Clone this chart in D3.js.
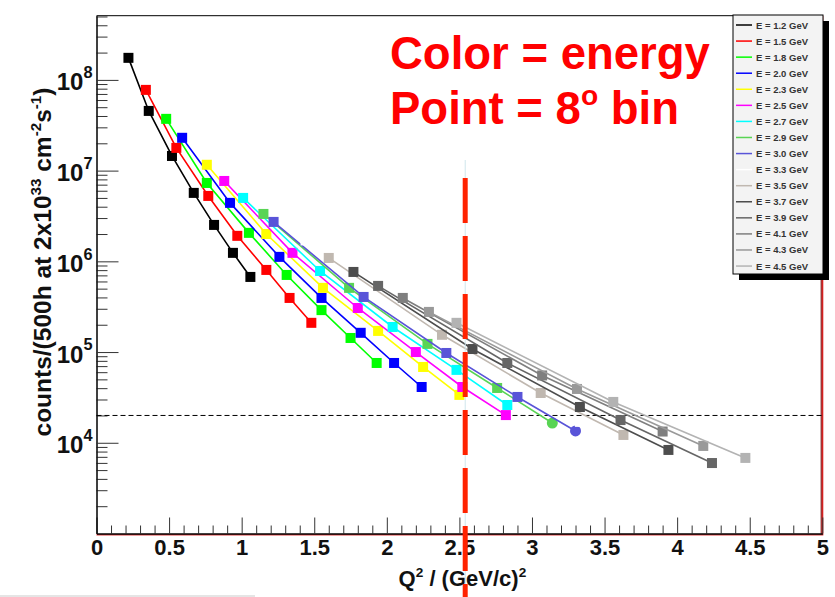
<!DOCTYPE html>
<html><head><meta charset="utf-8">
<script src="https://cdn.jsdelivr.net/npm/d3@7"></script>
<style>
body{margin:0;background:#fff}
svg{display:block}
text{font-family:"Liberation Sans",Arial,Helvetica,sans-serif;font-weight:bold}
</style>
</head><body>
<svg id="chart" width="835" height="597"></svg>
<script>
// ---------------- DATA ----------------
const energies = ["1.2","1.5","1.8","2.0","2.3","2.5","2.7","2.9","3.0","3.3","3.5","3.7","3.9","4.1","4.3","4.5"];
const seriesQ2 = [
  [0.22,0.36,0.52,0.67,0.81,0.94,1.06],
  [0.34,0.55,0.77,0.97,1.17,1.33,1.48],
  [0.48,0.76,1.05,1.31,1.55,1.75,1.93],
  [0.59,0.92,1.26,1.55,1.82,2.05,2.24],
  [0.76,1.17,1.56,1.94,2.25,2.50],
  [0.88,1.35,1.80,2.20,2.52,2.82],
  [1.01,1.54,2.04,2.48,2.83],
  [1.15,1.74,2.28,2.76,3.14],
  [1.22,1.84,2.41,2.90,3.30],
  [1.44,2.13,2.74,3.33],
  [1.60,2.38,3.06,3.63],
  [1.77,2.59,3.33,3.94],
  [1.94,2.83,3.61,4.24],
  [2.11,3.07,3.90],
  [2.29,3.31,4.18],
  [2.48,3.56,4.47]
];
const seriesCounts = [
  [1.75e8,4.55e7,1.45e7,5.68e6,2.52e6,1.24e6,6.73e5],
  [7.76e7,1.78e7,5.26e6,1.91e6,8.04e5,3.95e5,2.10e5],
  [3.72e7,7.31e6,2.06e6,7.08e5,2.90e5,1.43e5,7.58e4],
  [2.30e7,4.41e6,1.12e6,3.95e5,1.63e5,7.58e4,4.12e4],
  [1.16e7,2.00e6,5.10e5,1.71e5,6.85e4,3.37e4],
  [7.69e6,1.24e6,3.06e5,1.00e5,4.12e4,2.02e4],
  [5.00e6,7.83e5,1.89e5,6.36e4,2.61e4],
  [3.33e6,5.10e5,1.23e5,4.02e4,1.65e4],
  [2.72e6,4.05e5,9.77e4,3.20e4,1.35e4],
  [1.70e6,2.50e5,5.80e4,1.70e4],
  [1.09e6,1.55e5,3.54e4,1.22e4],
  [7.64e5,1.08e5,2.48e4,8.34e3],
  [5.36e5,7.58e4,1.78e4,5.98e3],
  [3.95e5,5.52e4,1.33e4],
  [2.77e5,3.92e4,9.23e3],
  [2.10e5,2.82e4,6.81e3]
];
const xTickValues = [0,0.5,1,1.5,2,2.5,3,3.5,4,4.5,5];
const xTickLabels = ["0","0.5","1","1.5","2","2.5","3","3.5","4","4.5","5"];
const yDecades = [1e4,1e5,1e6,1e7,1e8];
const yTickExponents = ["4","5","6","7","8"];
const thresholdCounts = 2e4;
const cutQ2 = 2.54;

// ---------------- STYLE ----------------
const colors = ["#000000","#ff0000","#00ff00","#0000ff","#ffff00","#ff00ff","#00ffff","#59d454",
                "#5954d8","#ffffff","#c0b8b0","#4d4d4d","#666666","#7f7f7f","#999999","#b3b3b3"];
const roundLastMarker = ["2.9","3.0"];

const svg = d3.select("#chart");
svg.append("rect").attr("width",835).attr("height",597).attr("fill","#fff");

const x = d3.scaleLinear().domain([0,5]).range([96.5,822.3]);
const y = d3.scaleLog().domain([1e3,5.1e8]).range([533.5,15.7]);
const [X0,X1] = x.range();
const [Y0,Y1] = y.range();

// superscript helper (px-based shifts)
function rich(t, parts, size){
  let cur = 0;
  parts.forEach(([txt,sup])=>{
    const target = sup ? -0.42*size : 0;
    t.append("tspan").attr("dy",(target-cur).toFixed(2)).attr("font-size",sup?size*0.62:size).text(txt);
    cur = target;
  });
}

// light slide artifact line
svg.append("line").attr("x1",0).attr("x2",255).attr("y1",596).attr("y2",596)
  .attr("stroke","#dddddd").attr("stroke-width",1.5);

// frame
svg.append("line").attr("x1",X0).attr("x2",X1).attr("y1",Y1).attr("y2",Y1).attr("stroke","#000").attr("stroke-width",1);
svg.append("line").attr("x1",X1).attr("x2",X1).attr("y1",Y1).attr("y2",Y0+1).attr("stroke","#d42020").attr("stroke-width",2);
svg.append("line").attr("x1",X1-1.2).attr("x2",X1-1.2).attr("y1",Y1).attr("y2",Y0).attr("stroke","#600").attr("stroke-width",0.8);
svg.append("line").attr("x1",X0).attr("x2",X1+1).attr("y1",Y0+1.2).attr("y2",Y0+1.2).attr("stroke","#e03a3a").attr("stroke-width",1.6);

// X axis
const xMinor = d3.range(0,5.0001,0.1).filter(v=>Math.abs(v*2-Math.round(v*2))>1e-6);
const gxm = svg.append("g").attr("transform",`translate(0,${Y0})`)
  .call(d3.axisBottom(x).tickValues(xMinor).tickFormat("").tickSizeInner(-8).tickSizeOuter(0));
const gx = svg.append("g").attr("transform",`translate(0,${Y0})`)
  .call(d3.axisBottom(x).tickValues(xTickValues).tickFormat((d,i)=>xTickLabels[i]).tickSizeInner(-16).tickSizeOuter(0).tickPadding(6));
[gxm,gx].forEach(g=>{g.select(".domain").attr("stroke","#000");g.selectAll(".tick line").attr("stroke","#333");});
gx.selectAll(".tick text").attr("font-size",22).attr("fill","#111").attr("font-family",null);

// Y axis
const yMinor = [];
for(let e=3;e<=8;e++){for(let m=2;m<=9;m++){const v=m*Math.pow(10,e); if(v<=5.1e8) yMinor.push(v);}}
const gym = svg.append("g").attr("transform",`translate(${X0},0)`)
  .call(d3.axisLeft(y).tickValues(yMinor).tickFormat("").tickSizeInner(-11).tickSizeOuter(0));
const gy = svg.append("g").attr("transform",`translate(${X0},0)`)
  .call(d3.axisLeft(y).tickValues(yDecades).tickFormat("").tickSizeInner(-22).tickSizeOuter(0).tickPadding(4));
[gym,gy].forEach(g=>{g.select(".domain").attr("stroke","#000");g.selectAll(".tick line").attr("stroke","#333");});
gy.selectAll(".tick text").each(function(d,i){
  const t=d3.select(this).attr("font-size",24).attr("fill","#111").attr("font-family",null).attr("dy",null);
  t.append("tspan").attr("dy","0.42em").text("10");
  t.append("tspan").attr("dy","-0.75em").attr("font-size","0.68em").text(yTickExponents[i]);
});

// axis titles
const xt = svg.append("text").attr("x",(X0+X1)/2+3).attr("y",586).attr("text-anchor","middle").attr("fill","#111");
rich(xt,[["Q",false],["2",true],[" / (GeV/c)",false],["2",true]],22);

const yt = svg.append("text").attr("transform","translate(51,262) rotate(-90)").attr("text-anchor","middle").attr("fill","#111");
rich(yt,[["counts/(500h at 2x10",false],["33",true],[" cm",false],["-2",true],["s",false],["-1",true],[")",false]],24.5);

// threshold dashed line
svg.append("line").attr("x1",X0).attr("x2",X1).attr("y1",y(thresholdCounts)).attr("y2",y(thresholdCounts))
  .attr("stroke","#000").attr("stroke-width",1).attr("stroke-dasharray","5,3");

// series
const line = d3.line().x(d=>x(d[0])).y(d=>y(d[1]));
energies.forEach((e,si)=>{
  const pts = seriesQ2[si].map((q,i)=>[q,seriesCounts[si][i]]);
  const g = svg.append("g");
  g.append("path").attr("d",line(pts)).attr("fill","none").attr("stroke",colors[si]).attr("stroke-width",1.6);
  pts.forEach((p,i)=>{
    const last = i===pts.length-1;
    if(last && roundLastMarker.includes(e)){
      g.append("circle").attr("cx",x(p[0])).attr("cy",y(p[1])).attr("r",5.5).attr("fill",colors[si]);
    } else {
      g.append("rect").attr("x",x(p[0])-5).attr("y",y(p[1])-5).attr("width",10).attr("height",10).attr("fill",colors[si]);
    }
  });
});

// vertical cut line
svg.append("line").attr("x1",x(cutQ2)).attr("x2",x(cutQ2)).attr("y1",160).attr("y2",597)
  .attr("stroke","#cfe6ec").attr("stroke-width",1);
svg.append("line").attr("x1",x(cutQ2)).attr("x2",x(cutQ2)).attr("y1",y(8.3e6)).attr("y2",597)
  .attr("stroke","#ff2200").attr("stroke-width",5).attr("stroke-dasharray","45,13");

// annotation text
svg.append("text").attr("x",390).attr("y",69).attr("font-size",45.5).attr("fill","#ff0000").text("Color = energy");
const pt = svg.append("text").attr("x",390).attr("y",124).attr("fill","#ff0000");
rich(pt,[["Point = 8",false],["o",true],[" bin",false]],45.5);

// legend
const lx0=733, ly0=15, lw=90, lh=259;
svg.append("rect").attr("x",lx0+6).attr("y",ly0+6).attr("width",lw).attr("height",lh).attr("fill","#000");
svg.append("rect").attr("x",lx0).attr("y",ly0).attr("width",lw).attr("height",lh).attr("fill","#f3f3f3").attr("stroke","#000").attr("stroke-width",1);
energies.forEach((e,i)=>{
  const cy = ly0+10+i*16.07;
  svg.append("line").attr("x1",lx0+3).attr("x2",lx0+19).attr("y1",cy).attr("y2",cy)
    .attr("stroke",colors[i]).attr("stroke-width",1.5);
  svg.append("text").attr("x",lx0+23).attr("y",cy+3.5).attr("font-size",9.5).attr("fill","#333")
    .text(`E = ${e} GeV`);
});
</script>
</body></html>
